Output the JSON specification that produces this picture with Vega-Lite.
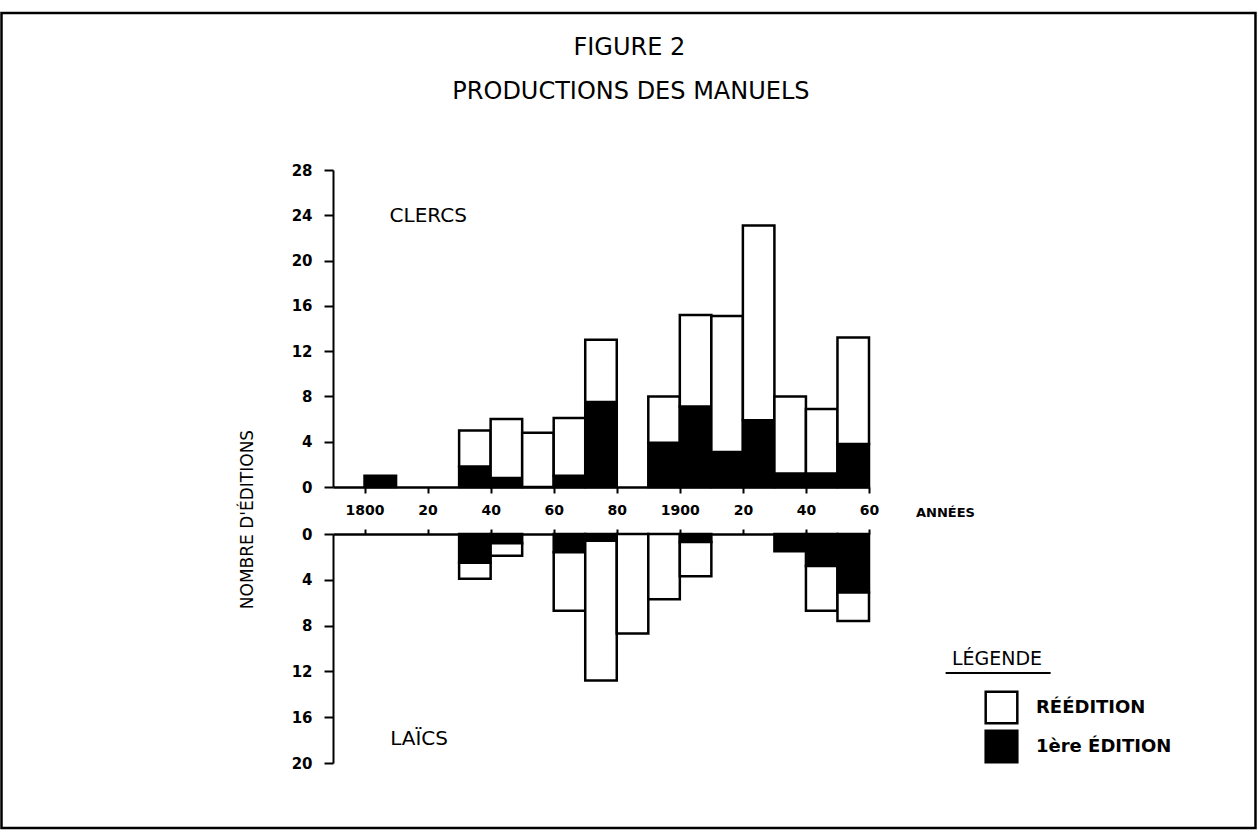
{
  "$schema": "https://vega.github.io/schema/vega-lite/v6.json",
  "padding": {"left": 0, "top": 11, "right": 0, "bottom": 0},
  "background": "white",
  "config": {"font": "DejaVu Sans", "view": {"stroke": null}},
  "datasets": {
    "clercs": [
      {"start": 1800, "end": 1810, "type": "1ère ÉDITION", "n": 1},
      {"start": 1830, "end": 1840, "type": "1ère ÉDITION", "n": 1.8},
      {"start": 1830, "end": 1840, "type": "RÉÉDITION", "n": 3.2},
      {"start": 1840, "end": 1850, "type": "1ère ÉDITION", "n": 0.8},
      {"start": 1840, "end": 1850, "type": "RÉÉDITION", "n": 5.2},
      {"start": 1850, "end": 1860, "type": "RÉÉDITION", "n": 4.8},
      {"start": 1860, "end": 1870, "type": "1ère ÉDITION", "n": 1},
      {"start": 1860, "end": 1870, "type": "RÉÉDITION", "n": 5.1},
      {"start": 1870, "end": 1880, "type": "1ère ÉDITION", "n": 7.5},
      {"start": 1870, "end": 1880, "type": "RÉÉDITION", "n": 5.5},
      {"start": 1890, "end": 1900, "type": "1ère ÉDITION", "n": 3.9},
      {"start": 1890, "end": 1900, "type": "RÉÉDITION", "n": 4.1},
      {"start": 1900, "end": 1910, "type": "1ère ÉDITION", "n": 7.1},
      {"start": 1900, "end": 1910, "type": "RÉÉDITION", "n": 8.1},
      {"start": 1910, "end": 1920, "type": "1ère ÉDITION", "n": 3.1},
      {"start": 1910, "end": 1920, "type": "RÉÉDITION", "n": 12},
      {"start": 1920, "end": 1930, "type": "1ère ÉDITION", "n": 5.9},
      {"start": 1920, "end": 1930, "type": "RÉÉDITION", "n": 17.2},
      {"start": 1930, "end": 1940, "type": "1ère ÉDITION", "n": 1.2},
      {"start": 1930, "end": 1940, "type": "RÉÉDITION", "n": 6.8},
      {"start": 1940, "end": 1950, "type": "1ère ÉDITION", "n": 1.2},
      {"start": 1940, "end": 1950, "type": "RÉÉDITION", "n": 5.7},
      {"start": 1950, "end": 1960, "type": "1ère ÉDITION", "n": 3.8},
      {"start": 1950, "end": 1960, "type": "RÉÉDITION", "n": 9.4}
    ],
    "laics": [
      {"start": 1830, "end": 1840, "type": "1ère ÉDITION", "n": 2.5},
      {"start": 1830, "end": 1840, "type": "RÉÉDITION", "n": 1.4},
      {"start": 1840, "end": 1850, "type": "1ère ÉDITION", "n": 0.8},
      {"start": 1840, "end": 1850, "type": "RÉÉDITION", "n": 1.1},
      {"start": 1860, "end": 1870, "type": "1ère ÉDITION", "n": 1.6},
      {"start": 1860, "end": 1870, "type": "RÉÉDITION", "n": 5.1},
      {"start": 1870, "end": 1880, "type": "1ère ÉDITION", "n": 0.6},
      {"start": 1870, "end": 1880, "type": "RÉÉDITION", "n": 12.2},
      {"start": 1880, "end": 1890, "type": "RÉÉDITION", "n": 8.7},
      {"start": 1890, "end": 1900, "type": "RÉÉDITION", "n": 5.7},
      {"start": 1900, "end": 1910, "type": "1ère ÉDITION", "n": 0.7},
      {"start": 1900, "end": 1910, "type": "RÉÉDITION", "n": 3.0},
      {"start": 1930, "end": 1940, "type": "1ère ÉDITION", "n": 1.5},
      {"start": 1940, "end": 1950, "type": "1ère ÉDITION", "n": 2.8},
      {"start": 1940, "end": 1950, "type": "RÉÉDITION", "n": 3.9},
      {"start": 1950, "end": 1960, "type": "1ère ÉDITION", "n": 5.1},
      {"start": 1950, "end": 1960, "type": "RÉÉDITION", "n": 2.5}
    ]
  },
  "vconcat": [
    {
      "width": 536,
      "height": 317,
      "layer": [
        {
          "data": {"name": "clercs"},
          "transform": [
            {"stack": "n", "groupby": ["start"], "as": ["y0", "y1"], "sort": [{"field": "type", "order": "ascending"}]}
          ],
          "mark": {"type": "rect", "stroke": "black", "strokeWidth": 2.5},
          "encoding": {
            "x": {
              "field": "start", "type": "quantitative",
              "scale": {"domain": [1790, 1960], "nice": false, "zero": false},
              "axis": {
                "orient": "bottom",
                "values": [1800, 1810, 1820, 1830, 1840, 1850, 1860, 1870, 1880, 1890, 1900, 1910, 1920, 1930, 1940, 1950, 1960],
                "labelExpr": "datum.value % 100 == 0 ? toString(datum.value) : (datum.value % 20 == 0 ? substring(toString(datum.value), 2) : '')",
                "grid": false,
                "domainColor": "black", "domainWidth": 2.5,
                "tickColor": "black", "tickWidth": 2, "tickSize": 6,
                "labelFontSize": 14, "labelFontWeight": "bold", "labelColor": "black", "labelPadding": 10,
                "labelFlush": false,
                "title": "ANNÉES", "titleFontSize": 13, "titleFontWeight": "bold", "titleColor": "black",
                "titleX": 612, "titleY": 25, "titleAlign": "center", "titleBaseline": "middle"
              }
            },
            "x2": {"field": "end"},
            "y": {
              "field": "y0", "type": "quantitative",
              "scale": {"domain": [0, 28], "nice": false},
              "axis": {
                "values": [0, 2, 4, 6, 8, 10, 12, 14, 16, 18, 20, 22, 24, 26, 28],
                "labelExpr": "datum.value % 4 == 0 ? toString(datum.value) : ''",
                "grid": false,
                "domainColor": "black", "domainWidth": 2,
                "tickColor": "black", "tickWidth": 2, "tickSize": 9,
                "labelFontSize": 15, "labelFontWeight": "bold", "labelColor": "black", "labelPadding": 12,
                "labelFlush": false,
                "title": "NOMBRE D'ÉDITIONS", "titleFontSize": 17, "titleFontWeight": "normal", "titleColor": "black",
                "titleAngle": 270, "titleX": -86, "titleY": 349, "titleAlign": "center", "titleBaseline": "middle"
              }
            },
            "y2": {"field": "y1"},
            "color": {
              "field": "type", "type": "nominal",
              "scale": {"domain": ["RÉÉDITION", "1ère ÉDITION"], "range": ["white", "black"]},
              "legend": null
            }
          }
        },
        {
          "data": {"values": [{"label": "CLERCS"}]},
          "mark": {"type": "text", "fontSize": 20, "color": "black", "align": "center", "baseline": "middle"},
          "encoding": {
            "x": {"datum": 1820.2, "type": "quantitative"},
            "y": {"datum": 23.9, "type": "quantitative"},
            "text": {"field": "label"}
          }
        },
        {
          "data": {"values": [{"label": "FIGURE 2"}]},
          "mark": {"type": "text", "fontSize": 24, "color": "black", "align": "center", "baseline": "middle"},
          "encoding": {
            "x": {"datum": 1884, "type": "quantitative"},
            "y": {"datum": 38.8, "type": "quantitative"},
            "text": {"field": "label"}
          }
        },
        {
          "data": {"values": [{"label": "PRODUCTIONS DES MANUELS"}]},
          "mark": {"type": "text", "fontSize": 24, "color": "black", "align": "center", "baseline": "middle"},
          "encoding": {
            "x": {"datum": 1884.5, "type": "quantitative"},
            "y": {"datum": 34.9, "type": "quantitative"},
            "text": {"field": "label"}
          }
        },
        {
          "data": {"values": [{"frame": 1}]},
          "mark": {"type": "rect", "fill": null, "filled": false, "stroke": "black", "strokeWidth": 2.5},
          "encoding": {
            "x": {"datum": 1684.86, "type": "quantitative"},
            "x2": {"datum": 2082.58},
            "y": {"datum": 41.87, "type": "quantitative"},
            "y2": {"datum": -30.12}
          }
        }
      ]
    },
    {
      "width": 536,
      "height": 229,
      "layer": [
        {
          "data": {"name": "laics"},
          "transform": [
            {"stack": "n", "groupby": ["start"], "as": ["y0", "y1"], "sort": [{"field": "type", "order": "ascending"}]}
          ],
          "mark": {"type": "rect", "stroke": "black", "strokeWidth": 2.5},
          "encoding": {
            "x": {
              "field": "start", "type": "quantitative",
              "scale": {"domain": [1790, 1960], "nice": false, "zero": false},
              "axis": {
                "orient": "top",
                "values": [1800, 1810, 1820, 1830, 1840, 1850, 1860, 1870, 1880, 1890, 1900, 1910, 1920, 1930, 1940, 1950, 1960],
                "labels": false,
                "grid": false,
                "domainColor": "black", "domainWidth": 2.5,
                "tickColor": "black", "tickWidth": 2, "tickSize": 5,
                "title": null
              }
            },
            "x2": {"field": "end"},
            "y": {
              "field": "y0", "type": "quantitative",
              "scale": {"domain": [0, 20], "nice": false, "reverse": true},
              "axis": {
                "values": [0, 2, 4, 6, 8, 10, 12, 14, 16, 18, 20],
                "labelExpr": "datum.value % 4 == 0 ? toString(datum.value) : ''",
                "grid": false,
                "domainColor": "black", "domainWidth": 2,
                "tickColor": "black", "tickWidth": 2, "tickSize": 9,
                "labelFontSize": 15, "labelFontWeight": "bold", "labelColor": "black", "labelPadding": 12,
                "labelFlush": false,
                "title": null
              }
            },
            "y2": {"field": "y1"},
            "color": {
              "field": "type", "type": "nominal",
              "scale": {"domain": ["RÉÉDITION", "1ère ÉDITION"], "range": ["white", "black"]},
              "legend": {
                "title": null,
                "orient": "none",
                "legendX": 651,
                "legendY": 156,
                "padding": 0,
                "symbolType": "square",
                "symbolSize": 1000,
                "symbolStrokeColor": "black",
                "symbolStrokeWidth": 2.5,
                "symbolOpacity": 1,
                "labelFontSize": 18,
                "labelFontWeight": "bold",
                "labelColor": "black",
                "labelOffset": 17,
                "rowPadding": -4
              }
            }
          }
        },
        {
          "data": {"values": [{"label": "LAÏCS"}]},
          "mark": {"type": "text", "fontSize": 20, "color": "black", "align": "center", "baseline": "middle"},
          "encoding": {
            "x": {"datum": 1817.3, "type": "quantitative"},
            "y": {"datum": 17.9, "type": "quantitative"},
            "text": {"field": "label"}
          }
        },
        {
          "data": {"values": [{"label": "LÉGENDE"}]},
          "mark": {"type": "text", "fontSize": 19, "color": "black", "align": "center", "baseline": "middle"},
          "encoding": {
            "x": {"datum": 2000.6, "type": "quantitative"},
            "y": {"datum": 10.92, "type": "quantitative"},
            "text": {"field": "label"}
          }
        },
        {
          "data": {"values": [{"underline": 1}]},
          "mark": {"type": "rule", "color": "black", "strokeWidth": 2},
          "encoding": {
            "x": {"datum": 1984.3, "type": "quantitative"},
            "x2": {"datum": 2017.6},
            "y": {"datum": 12.14, "type": "quantitative"}
          }
        }
      ]
    }
  ],
  "spacing": 47,
  "bounds": "flush",
  "resolve": {"scale": {"color": "independent"}, "legend": {"color": "independent"}}
}
